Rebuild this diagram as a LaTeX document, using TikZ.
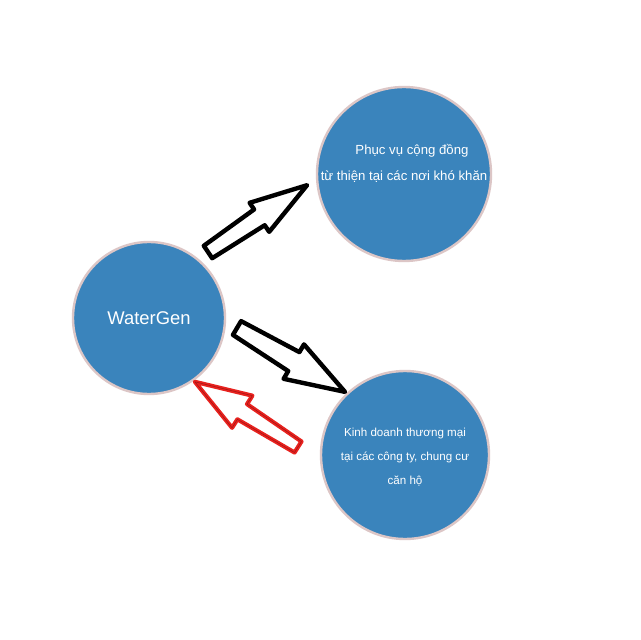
\documentclass[tikz,border=0pt]{standalone}
\usepackage{fontspec}
\setmainfont{Liberation Sans}
\usetikzlibrary{positioning}
\definecolor{bubbleblue}{HTML}{3A84BC}
\definecolor{bubbleedge}{HTML}{DCC6C6}
\definecolor{arrowred}{HTML}{E8221E}
\definecolor{arrowdark}{HTML}{A01414}
\tikzset{
    bubble/.style={circle, fill=bubbleblue, draw=bubbleedge, line width=1.2pt, text=white, align=center, inner sep=0pt},
    caption/.style={text=white, align=center, inner sep=0pt},
    blackarrow/.style={draw=black, fill=white, line width=2.2pt, line join=round},
    redarrow/.style={draw=arrowred, fill=white, line width=2.1pt, line join=round, postaction={draw=arrowdark, line width=0.25pt}}
}
% block arrow: style, tail, angle, length, head base, shaft at tail, shaft at head, head
\newcommand{\blockarrow}[8]{%
    \draw[#1, shift={(#2)}, rotate=#3] (0,-#6) -- (#5,-#7) -- (#5,-#8) -- (#4,0) -- (#5,#8) -- (#5,#7) -- (0,#6) -- cycle;}

\begin{document}
\begin{tikzpicture}[x=0.5pt, y=-0.5pt]

\fill[white] (0,0) rectangle (640,640);
\useasboundingbox (0,0) rectangle (640,640);

% Circles
\node[bubble, minimum size=76pt, font=\fontsize{9.2}{11}\selectfont] (water) at (149,318) {WaterGen};
\node[bubble, minimum size=87pt] (charity) at (404,174) {};
\node[caption, font=\fontsize{6.6}{13}\selectfont] (charityText) at ([yshift=5.5pt]charity.center) {\hspace*{8pt}Phục vụ cộng đồng\\từ thiện tại các nơi khó khăn};
\node[bubble, minimum size=84pt] (business) at (405,455) {};
\node[caption, font=\fontsize{5.8}{12}\selectfont] (businessText) at ([yshift=-1pt]business.center) {Kinh doanh thương mại\\tại các công ty, chung cư\\căn hộ};

% Arrows
\blockarrow{blackarrow}{208,252}{34}{119.5}{62}{7.5}{9.5}{17.5}
\blockarrow{blackarrow}{237,328}{-30.6}{125.5}{66}{8}{11}{20}
\blockarrow{redarrow}{298,447}{147.7}{122}{66}{6.5}{9}{19}

\end{tikzpicture}
\end{document}
